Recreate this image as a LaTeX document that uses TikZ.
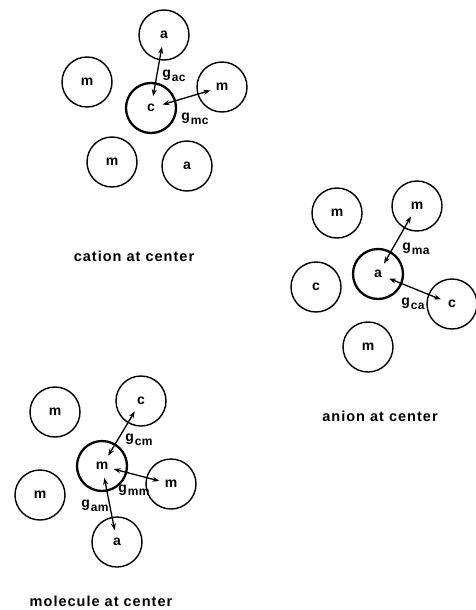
\documentclass[tikz,border=0pt]{standalone}
\usepackage{fontspec}
\setmainfont{Liberation Sans}
\usetikzlibrary{arrows.meta}
\tikzset{
  ion/.style={circle, draw, line width=1.4pt, minimum size=50pt, inner sep=0pt,
              font=\fontsize{14}{14}\selectfont\bfseries},
  centre/.style={ion, line width=2.3pt},
  pair/.style={{Stealth[length=7pt,width=5pt]}-{Stealth[length=7pt,width=5pt]},
               line width=1.3pt, shorten <=12pt, shorten >=12pt},
  glabel/.style={inner sep=0pt, font=\fontsize{14}{14}\selectfont\bfseries},
  caption/.style={inner sep=0pt,
                  font=\fontsize{14.5}{14.5}\selectfont\bfseries\addfontfeature{LetterSpace=7}}
}
\newcommand{\gsub}[1]{g\kern0.8pt\raisebox{-3.5pt}{\fontsize{12}{12}\selectfont\addfontfeature{LetterSpace=4}#1}}
\begin{document}
\begin{tikzpicture}[x=1pt, y=-1pt]
\useasboundingbox (0,0) rectangle (476,610);

% cation at the centre
\node[centre] (c1)  at (151,108) {c};
\node[ion]    (a1)  at (164,35)  {a};
\node[ion]    (m1a) at (87,82)   {m};
\node[ion]    (m1b) at (222,87)  {m};
\node[ion]    (m1c) at (112,162) {m};
\node[ion]    (a1b) at (187,166) {a};
\draw[pair] (c1.center) -- (a1.center);
\draw[pair] (c1.center) -- (m1b.center);
\node[glabel] (gac) at (174,76)  {\gsub{ac}};
\node[glabel] (gmc) at (195,119) {\gsub{mc}};
\node[caption] (cap1) at (134,256) {cation at center};

% anion at the centre
\node[centre] (a2)  at (378,274) {a};
\node[ion]    (m2a) at (337,213) {m};
\node[ion]    (m2b) at (417,206) {m};
\node[ion]    (c2a) at (316,287) {c};
\node[ion]    (c2b) at (452,304) {c};
\node[ion]    (m2c) at (368,347) {m};
\draw[pair] (a2.center) -- (m2b.center);
\draw[pair] (a2.center) -- (c2b.center);
\node[glabel] (gma) at (416,249) {\gsub{ma}};
\node[glabel] (gca) at (413,304) {\gsub{ca}};
\node[caption] (cap2) at (380,416) {anion at center};

% molecule at the centre
\node[centre] (m3)  at (102,466) {m};
\node[ion]    (m3a) at (55,412)  {m};
\node[ion]    (c3)  at (141,401) {c};
\node[ion]    (m3b) at (171,484) {m};
\node[ion]    (m3c) at (40,495)  {m};
\node[ion]    (a3)  at (117,542) {a};
\draw[pair] (m3.center) -- (c3.center);
\draw[pair] (m3.center) -- (m3b.center);
\draw[pair] (m3.center) -- (a3.center);
\node[glabel] (gcm) at (139,440) {\gsub{cm}};
\node[glabel] (gmm) at (134,490) {\gsub{mm}};
\node[glabel] (gam) at (95,506)  {\gsub{am}};
\node[caption] (cap3) at (101,601) {molecule at center};
\end{tikzpicture}
\end{document}
